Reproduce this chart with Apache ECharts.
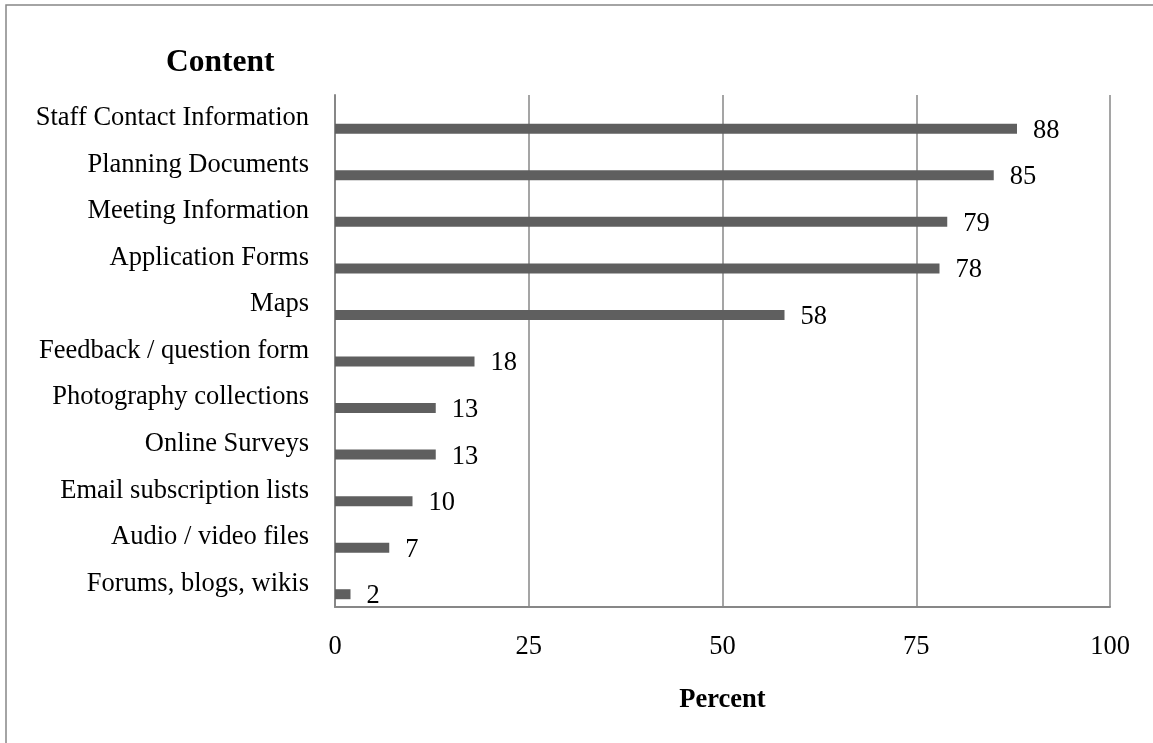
<!DOCTYPE html>
<html>
<head>
<meta charset="utf-8">
<script src="https://cdn.jsdelivr.net/npm/echarts@6/dist/echarts.min.js"></script>
<style>
  html, body { margin: 0; padding: 0; background: #fff; }
  #chart { width: 1153px; height: 743px; }
</style>
</head>
<body>
<div id="chart"></div>
<script>
const categories = [
  "Staff Contact Information",
  "Planning Documents",
  "Meeting Information",
  "Application Forms",
  "Maps",
  "Feedback / question form",
  "Photography collections",
  "Online Surveys",
  "Email subscription lists",
  "Audio / video files",
  "Forums, blogs, wikis"
];
const percentValues = [88, 85, 79, 78, 58, 18, 13, 13, 10, 7, 2];
const xTicks = { min: 0, max: 100, interval: 25 };

const font = "'Liberation Serif', 'Times New Roman', serif";
const gray = "#878787";

let chart = echarts.init(document.getElementById("chart"), null, { renderer: "canvas" });
let option = {
  animation: false,
  backgroundColor: "#fff",
  title: {
    text: "Content",
    left: 166,
    top: 47,
    padding: 0,
    textStyle: { fontFamily: font, fontSize: 31.5, fontWeight: "bold", color: "#000" }
  },
  // outer frame (only top and left edges fall inside the picture)
  graphic: [
    {
      type: "rect",
      shape: { x: 6, y: 5, width: 1200, height: 800 },
      style: { fill: "none", stroke: gray, lineWidth: 1.5 },
      silent: true
    }
  ],
  grid: { left: 335, right: 43, top: 95, bottom: 136 },
  xAxis: {
    type: "value",
    min: xTicks.min,
    max: xTicks.max,
    interval: xTicks.interval,
    name: "Percent",
    nameLocation: "middle",
    nameGap: 80,
    nameTextStyle: { fontFamily: font, fontSize: 26.5, fontWeight: "bold", color: "#000" },
    axisLine: { show: true, lineStyle: { color: gray, width: 2 } },
    axisTick: { show: false },
    splitLine: { show: true, lineStyle: { color: gray, width: 1.5 } },
    axisLabel: { fontFamily: font, fontSize: 26.5, color: "#000", margin: 27 }
  },
  yAxis: {
    type: "category",
    inverse: true,
    data: categories,
    axisLine: { show: true, lineStyle: { color: gray, width: 2 } },
    axisTick: { show: false },
    splitLine: { show: false },
    axisLabel: { fontFamily: font, fontSize: 26.5, color: "#000", margin: 26 }
  },
  series: [
    {
      // empty series so the real bar sits below the category centre, as in the original
      name: "spacer",
      type: "bar",
      data: categories.map(() => null),
      barWidth: 10,
      barGap: "110%",
      silent: true
    },
    {
      name: "Percent",
      type: "bar",
      data: percentValues,
      barWidth: 10,
      barGap: "110%",
      itemStyle: { color: "#5f5f5f" },
      label: {
        show: true,
        position: "right",
        distance: 16,
        offset: [0, 2],
        fontFamily: font,
        fontSize: 26.5,
        color: "#000"
      }
    }
  ]
};
chart.setOption(option);
</script>
</body>
</html>
